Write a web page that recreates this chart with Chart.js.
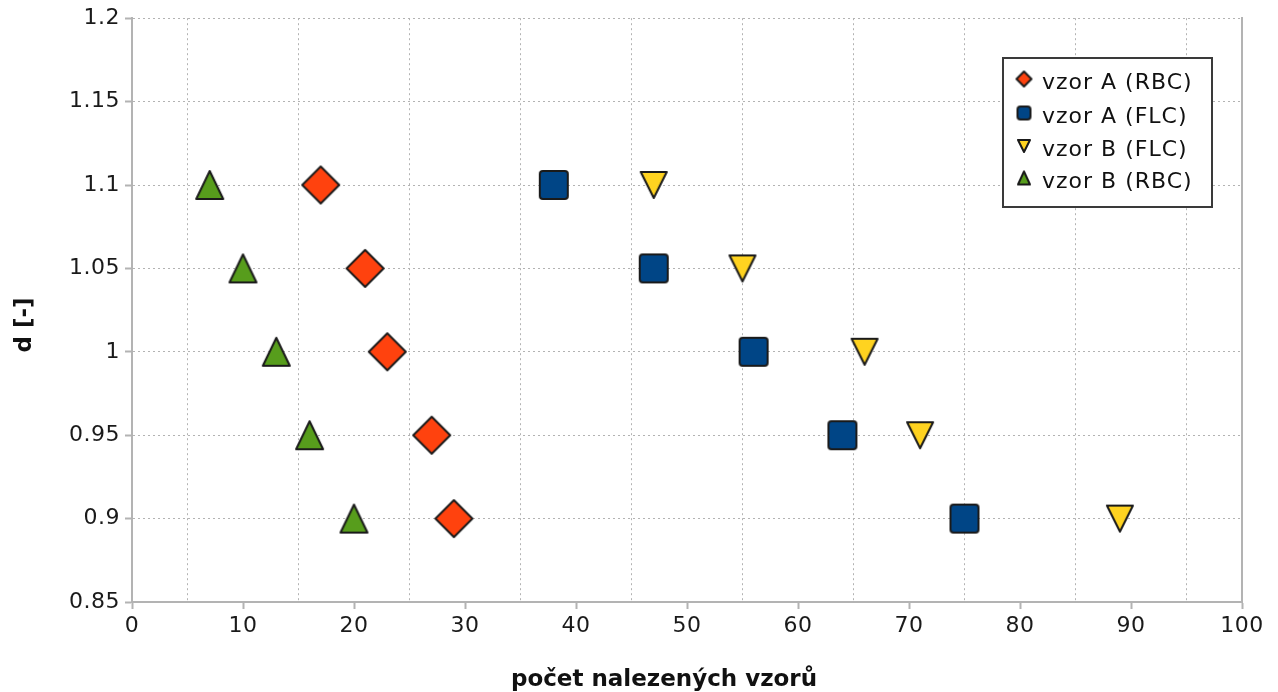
<!DOCTYPE html>
<html>
<head>
<meta charset="utf-8">
<script src="https://cdn.jsdelivr.net/npm/chart.js@4/dist/chart.umd.min.js"></script>
<style>
  html, body { margin: 0; padding: 0; background: #fff; }
  #wrap { width: 1278px; height: 692px; }
</style>
</head>
<body>
<div id="wrap"><canvas id="chart" width="1278" height="692"></canvas></div>
<script>
// values
const dValues = [1.1, 1.05, 1, 0.95, 0.9]
const vzorA_RBC = [17, 21, 23, 27, 29]
const vzorA_FLC = [38, 47, 56, 64, 75]
const vzorB_FLC = [47, 55, 66, 71, 89]
const vzorB_RBC = [7, 10, 13, 16, 20]

const seriesNames = ["vzor A (RBC)", "vzor A (FLC)", "vzor B (FLC)", "vzor B (RBC)"]
const xTickLabels = [0, 10, 20, 30, 40, 50, 60, 70, 80, 90, 100]
const yTickLabels = ["0.85", "0.9", "0.95", "1", "1.05", "1.1", "1.15", "1.2"]

const xTitle = "počet nalezených vzorů"
const yTitle = "d [-]"

const axisGray = "#b3b3b3"
const edge = "#1a1a1a"

// marker images, big for the plot and small for the legend
function makeMarker(shape, w, h, fill) {
  const c = document.createElement("canvas")
  c.width = Math.ceil(w) + 4
  c.height = Math.ceil(h) + 4
  const g = c.getContext("2d")
  const cx = c.width / 2
  const cy = c.height / 2
  g.beginPath()
  if (shape === "diamond") {
    g.moveTo(cx, cy - h / 2)
    g.lineTo(cx + w / 2, cy)
    g.lineTo(cx, cy + h / 2)
    g.lineTo(cx - w / 2, cy)
  } else if (shape === "square") {
    const r = 3
    const x0 = cx - w / 2 + 1, y0 = cy - h / 2 + 1, s = w - 2
    g.moveTo(x0 + r, y0)
    g.arcTo(x0 + s, y0, x0 + s, y0 + s, r)
    g.arcTo(x0 + s, y0 + s, x0, y0 + s, r)
    g.arcTo(x0, y0 + s, x0, y0, r)
    g.arcTo(x0, y0, x0 + s, y0, r)
  } else if (shape === "up") {
    g.moveTo(cx, cy - h / 2 + 1)
    g.lineTo(cx + w / 2 - 1, cy + h / 2 - 1)
    g.lineTo(cx - w / 2 + 1, cy + h / 2 - 1)
  } else {
    g.moveTo(cx - w / 2 + 1, cy - h / 2 + 1)
    g.lineTo(cx + w / 2 - 1, cy - h / 2 + 1)
    g.lineTo(cx, cy + h / 2 - 1)
  }
  g.closePath()
  g.fillStyle = fill
  g.fill()
  g.lineWidth = 2
  g.lineJoin = "round"
  g.strokeStyle = edge
  g.stroke()
  return c
}

const colors = ["#ff420e", "#004586", "#ffd320", "#579d1c"]
const bigMarkers = [
  makeMarker("diamond", 37, 37, colors[0]),
  makeMarker("square", 30, 30, colors[1]),
  makeMarker("down", 28, 28, colors[2]),
  makeMarker("up", 29, 30, colors[3]),
]
const smallMarkers = [
  makeMarker("diamond", 15, 15, colors[0]),
  makeMarker("square", 15, 15, colors[1]),
  makeMarker("down", 14, 14, colors[2]),
  makeMarker("up", 14, 15, colors[3]),
]

function toPoints(xs) {
  return xs.map((x, i) => ({ x: x, y: dValues[i] }))
}

const allSeries = [vzorA_RBC, vzorA_FLC, vzorB_FLC, vzorB_RBC]

const overlay = {
  id: "overlay",
  beforeDraw(chart) {
    chart.ctx.letterSpacing = "0.5px"
  },
  afterDraw(chart) {
    const ctx = chart.ctx
    ctx.save()
    // legend box
    ctx.fillStyle = "#fff"
    ctx.fillRect(1003, 58, 209, 149)
    ctx.lineWidth = 2
    ctx.strokeStyle = "#3a3a3a"
    ctx.strokeRect(1003, 58, 209, 149)
    const baselines = [89, 123, 156, 188]
    ctx.font = "22px 'DejaVu Sans'"
    ctx.letterSpacing = "1px"
    ctx.fillStyle = "#111"
    ctx.textAlign = "left"
    ctx.textBaseline = "alphabetic"
    seriesNames.forEach((name, i) => {
      const m = smallMarkers[i]
      ctx.drawImage(m, 1024 - m.width / 2, baselines[i] - 10 - m.height / 2)
      ctx.fillText(name, 1042, baselines[i])
    })
    // axis titles
    ctx.letterSpacing = "0px"
    ctx.font = "bold 23px 'DejaVu Sans'"
    ctx.textAlign = "center"
    ctx.fillText(xTitle, 664, 686)
    ctx.translate(25, 325)
    ctx.rotate(-Math.PI / 2)
    ctx.textBaseline = "middle"
    ctx.fillText(yTitle, 0, 0)
    ctx.restore()
  },
}

Chart.defaults.font.family = "'DejaVu Sans'"
Chart.defaults.font.size = 22
Chart.defaults.color = "#1a1a1a"

new Chart(document.getElementById("chart"), {
  type: "scatter",
  data: {
    datasets: allSeries.map((xs, i) => ({
      label: seriesNames[i],
      data: toPoints(xs),
      pointStyle: bigMarkers[i],
      backgroundColor: colors[i],
      borderColor: edge,
    })),
  },
  options: {
    responsive: false,
    animation: false,
    layout: { padding: { top: 16, right: 36, left: 0, bottom: 0 } },
    plugins: {
      legend: { display: false },
      tooltip: { enabled: false },
    },
    scales: {
      x: {
        type: "linear",
        min: 0,
        max: 100,
        afterFit: (s) => { s.height = 90 },
        ticks: {
          stepSize: 5,
          autoSkip: false,
          maxRotation: 0,
          padding: 4,
          callback: (v) => (xTickLabels.includes(v) ? String(v) : ""),
        },
        grid: {
          color: (c) => (c.tick && c.tick.value % 10 === 0 ? "rgba(0,0,0,0)" : axisGray),
          tickColor: (c) => (c.tick && c.tick.value % 10 === 0 ? axisGray : "rgba(0,0,0,0)"),
          tickLength: 7,
          tickWidth: 2,
        },
        border: { color: axisGray, width: 2, dash: [2, 3] },
      },
      y: {
        min: 0.85,
        max: 1.2,
        afterFit: (s) => { s.width = 132 },
        ticks: {
          stepSize: 0.05,
          padding: 5,
          callback: (v, i) => yTickLabels[i],
        },
        grid: {
          color: (c) => (c.index === 0 ? "rgba(0,0,0,0)" : axisGray),
          tickColor: axisGray,
          tickLength: 7,
          tickWidth: 2,
        },
        border: { color: axisGray, width: 2, dash: [2, 3] },
      },
      y2: {
        position: "right",
        display: true,
        min: 0.85,
        max: 1.2,
        afterFit: (s) => { s.width = 0 },
        ticks: { display: false },
        grid: { drawOnChartArea: false, drawTicks: false },
        border: { color: axisGray, width: 2 },
      },
    },
  },
  plugins: [overlay],
})
</script>
</body>
</html>
